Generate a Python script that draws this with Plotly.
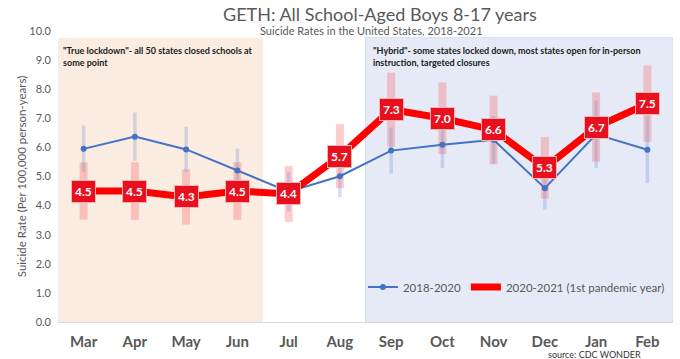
import plotly.graph_objects as go

months = ["Mar", "Apr", "May", "Jun", "Jul", "Aug", "Sep", "Oct", "Nov", "Dec", "Jan", "Feb"]
rate_2018_2020 = [5.95, 6.37, 5.93, 5.21, 4.48, 5.01, 5.89, 6.09, 6.26, 4.60, 6.45, 5.92]
err_2018_2020 = [0.80, 0.83, 0.78, 0.75, 0.68, 0.72, 0.79, 0.80, 0.82, 0.73, 1.16, 1.15]
rate_2020_2021 = [4.5, 4.5, 4.3, 4.5, 4.4, 5.7, 7.3, 7.0, 6.6, 5.3, 6.7, 7.5]
err_2020_2021 = [0.98, 0.99, 0.95, 0.99, 0.96, 1.10, 1.27, 1.23, 1.18, 1.06, 1.19, 1.31]
labels_2020_2021 = ["4.5", "4.5", "4.3", "4.5", "4.4", "5.7", "7.3", "7.0", "6.6", "5.3", "6.7", "7.5"]

FONT = "Lato"
GRAY = "#595959"

fig = go.Figure()

# Error bars (drawn first, behind lines)
fig.add_trace(go.Scatter(
    x=months, y=rate_2020_2021, mode="markers",
    marker=dict(size=1, opacity=0),
    error_y=dict(type="data", array=err_2020_2021, visible=True,
                 color="rgba(250,110,110,0.35)", thickness=8, width=0),
    showlegend=False, hoverinfo="skip"))
fig.add_trace(go.Scatter(
    x=months, y=rate_2018_2020, mode="markers",
    marker=dict(size=1, opacity=0),
    error_y=dict(type="data", array=err_2018_2020, visible=True,
                 color="rgba(120,140,210,0.3)", thickness=3.5, width=0),
    showlegend=False, hoverinfo="skip"))

fig.add_trace(go.Scatter(
    x=months, y=rate_2018_2020, mode="lines+markers", name="2018-2020",
    line=dict(color="#4472C4", width=2),
    marker=dict(size=6, color="#4472C4")))
fig.add_trace(go.Scatter(
    x=months, y=rate_2020_2021, mode="lines", name="2020-2021 (1st pandemic year)",
    line=dict(color="#FF0000", width=7)))

# Shaded periods
fig.add_shape(type="rect", xref="x", yref="y", x0=-0.5, x1=3.5, y0=0, y1=9.77,
              fillcolor="#FBECE1", line=dict(width=0), layer="below")
fig.add_shape(type="rect", xref="x", yref="y", x0=5.5, x1=11.5, y0=0, y1=9.77,
              fillcolor="#E5EAF6", line=dict(width=1, color="#D5DDEF"), layer="below")

# Data labels
for m, v, t in zip(months, rate_2020_2021, labels_2020_2021):
    fig.add_annotation(x=m, y=v, xref="x", yref="y", text="<b>%s</b>" % t,
                       showarrow=False, bgcolor="#E8101E", bordercolor="#F6B3B3",
                       borderwidth=1, borderpad=3,
                       font=dict(family=FONT, size=12, color="white"))

# Region notes
fig.add_annotation(x=-0.45, y=9.6, xref="x", yref="y", xanchor="left", yanchor="top",
                   align="left", showarrow=False,
                   text="<b>\"True lockdown\"- all 50 states closed schools at<br>some point</b>",
                   font=dict(family=FONT, size=9, color="#1a1a1a"))
fig.add_annotation(x=5.6, y=9.6, xref="x", yref="y", xanchor="left", yanchor="top",
                   align="left", showarrow=False,
                   text="<b>\"Hybrid\"- some states locked down, most states open for in-person<br>instruction, targeted closures</b>",
                   font=dict(family=FONT, size=9, color="#1a1a1a"))

# Titles
PW, PH, PL, PT = 615, 291, 58, 31
fig.add_annotation(x=(380 - PL) / PW, y=1 + (PT - 14) / PH, xref="paper", yref="paper",
                   xanchor="center", yanchor="middle",
                   showarrow=False, text="GETH: All School-Aged Boys 8-17 years",
                   font=dict(family=FONT, size=18, color=GRAY))
fig.add_annotation(x=(371 - PL) / PW, y=1 + (PT - 30) / PH, xref="paper", yref="paper",
                   xanchor="center", yanchor="middle",
                   showarrow=False, text="Suicide Rates in the United States, 2018-2021",
                   font=dict(family=FONT, size=11, color=GRAY))
fig.add_annotation(x=(594 - PL) / PW, y=-(354 - 322) / PH, xref="paper", yref="paper",
                   xanchor="center", yanchor="middle",
                   showarrow=False, text="source: CDC WONDER",
                   font=dict(family=FONT, size=9, color="#333333"))

fig.update_layout(
    width=680, height=359,
    margin=dict(l=58, r=7, t=31, b=37),
    paper_bgcolor="white", plot_bgcolor="white",
    font=dict(family=FONT, color=GRAY),
    legend=dict(orientation="h", x=0.995, xanchor="right", y=0.12, yanchor="middle",
                bgcolor="rgba(0,0,0,0)", font=dict(family=FONT, size=11.5, color=GRAY),
                itemwidth=30, tracegroupgap=0),
    xaxis=dict(type="category", showgrid=False, showline=True, linecolor="#D9D9D9",
               linewidth=1, ticks="",
               tickfont=dict(family=FONT, size=15, color=GRAY, weight="bold"),
               ticklabelstandoff=6, range=[-0.5, 11.5]),
    yaxis=dict(range=[0, 10], dtick=1, tickformat=".1f", showgrid=False, zeroline=False,
               showline=False, tickfont=dict(family=FONT, size=11, color=GRAY),
               ticklabelstandoff=6,
               title=dict(text="Suicide Rate (Per 100,000 person-years)",
                          font=dict(family=FONT, size=11.5, color=GRAY), standoff=0)),
)

fig.write_html("out.html", config={"displayModeBar": False},
               post_script="document.body.style.margin='0';document.body.style.padding='0';")
